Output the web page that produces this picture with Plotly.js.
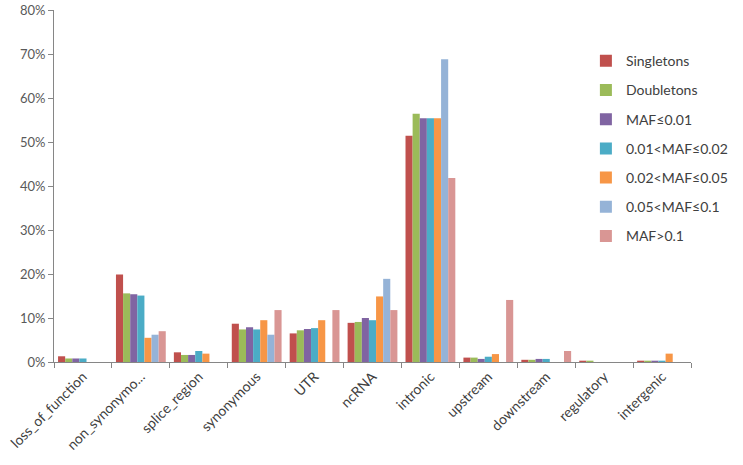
<!DOCTYPE html>
<html>
<head>
<meta charset="utf-8">
<script src="https://cdn.plot.ly/plotly-3.0.1.min.js"></script>
<style>html,body{margin:0;padding:0;background:#fff;}#chart{width:743px;height:465px;}</style>
</head>
<body>
<div id="chart"></div>
<script>
const categories = ["loss_of_function","non_synonymo...","splice_region","synonymous","UTR","ncRNA","intronic","upstream","downstream","regulatory","intergenic"];
const seriesNames = ["Singletons","Doubletons","MAF≤0.01","0.01<MAF≤0.02","0.02<MAF≤0.05","0.05<MAF≤0.1","MAF>0.1"];
const singletons   = [0.013, 0.199, 0.022, 0.087, 0.065, 0.089, 0.514, 0.010, 0.005, 0.003, 0.003];
const doubletons   = [0.008, 0.156, 0.016, 0.074, 0.072, 0.091, 0.564, 0.010, 0.005, 0.003, 0.003];
const maf001       = [0.008, 0.154, 0.016, 0.079, 0.075, 0.100, 0.554, 0.007, 0.007, 0.000, 0.003];
const maf001_002   = [0.008, 0.151, 0.025, 0.074, 0.077, 0.095, 0.554, 0.012, 0.007, 0.000, 0.003];
const maf002_005   = [0.000, 0.055, 0.019, 0.095, 0.095, 0.149, 0.554, 0.018, 0.000, 0.000, 0.019];
const maf005_01    = [0.000, 0.062, 0.000, 0.062, 0.000, 0.189, 0.688, 0.000, 0.000, 0.000, 0.000];
const mafGt01      = [0.000, 0.070, 0.000, 0.118, 0.118, 0.118, 0.418, 0.141, 0.025, 0.000, 0.000];
const seriesValues = [singletons, doubletons, maf001, maf001_002, maf002_005, maf005_01, mafGt01];
const colors = ["#C0504D","#9BBB59","#8064A2","#4BACC6","#F79646","#95B3D7","#D99694"];
const yTickVals = [0, 0.1, 0.2, 0.3, 0.4, 0.5, 0.6, 0.7, 0.8];
const yTickText = ["0%","10%","20%","30%","40%","50%","60%","70%","80%"];

const traces = seriesNames.map((name, i) => ({
  type: "bar",
  name: name,
  x: categories,
  y: seriesValues[i],
  marker: {color: colors[i]},
  legendgroup: "g" + i,
  hoverinfo: "x+y+name"
}));

const fontFam = "Lato, 'Open Sans', 'Liberation Sans', sans-serif";
const layout = {
  width: 743,
  height: 465,
  margin: {l: 54, r: 27, t: 10, b: 103},
  paper_bgcolor: "#ffffff",
  plot_bgcolor: "#ffffff",
  barmode: "group",
  bargap: 0.14,
  bargroupgap: 0,
  font: {family: fontFam, size: 13, color: "#404040"},
  xaxis: {
    type: "category",
    showline: true,
    linecolor: "#868686",
    linewidth: 1,
    ticks: "outside",
    tickson: "boundaries",
    ticklen: 5,
    tickcolor: "#868686",
    tickangle: -45,
    showgrid: false,
    zeroline: false,
    tickfont: {family: fontFam, size: 14, color: "#404040"}
  },
  yaxis: {
    range: [0, 0.8],
    tickmode: "array",
    tickvals: yTickVals,
    ticktext: yTickText,
    ticklabeloverflow: "allow",
    showline: true,
    linecolor: "#868686",
    linewidth: 1,
    ticks: "outside",
    ticklen: 5,
    tickcolor: "#868686",
    showgrid: false,
    zeroline: false,
    tickfont: {family: fontFam, size: 13, color: "#595959"}
  },
  showlegend: true,
  legend: {
    x: 0.835,
    y: 0.9,
    xanchor: "left",
    yanchor: "top",
    bgcolor: "rgba(255,255,255,0)",
    font: {family: fontFam, size: 14, color: "#404040"},
    tracegroupgap: 8,
    itemwidth: 30
  }
};

Plotly.newPlot("chart", traces, layout, {displayModeBar: false, staticPlot: true});
</script>
</body>
</html>
